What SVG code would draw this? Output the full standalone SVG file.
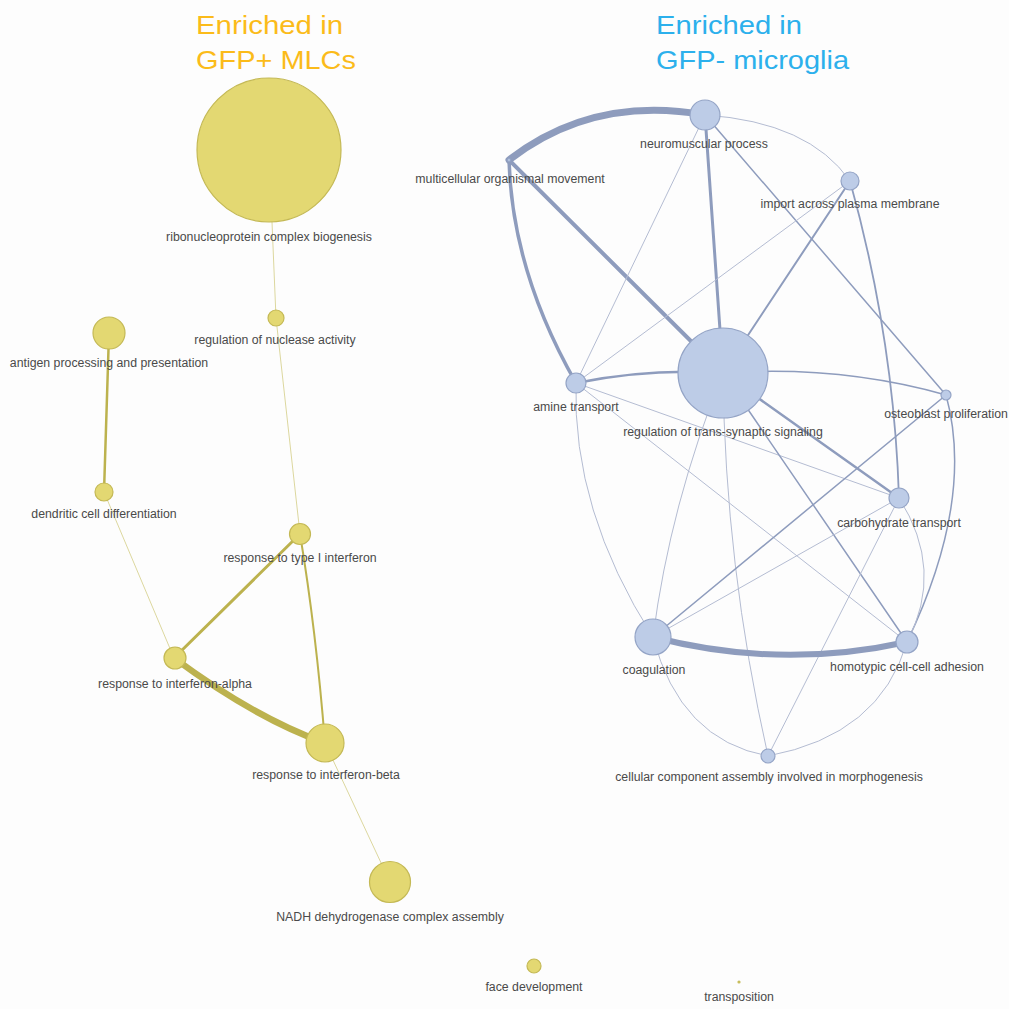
<svg xmlns="http://www.w3.org/2000/svg" width="1009" height="1009" viewBox="0 0 1009 1009">
<style>
.t{font-family:"Liberation Sans",Arial,sans-serif;font-size:12.3px;fill:#4a4a4a;text-anchor:middle}
.title{font-family:"Liberation Sans",Arial,sans-serif;font-size:25.5px}
.y{fill:#e3d872;stroke:#c4b955;stroke-width:1.2}
.b{fill:#bdcce7;stroke:#94a4c6;stroke-width:1.2}
.ey{fill:none;stroke:#bcb24e;stroke-linecap:round}
.eyl{fill:none;stroke:#dcd79e;stroke-width:1}
.eb{fill:none;stroke:#8e9cbd;stroke-linecap:round}
.ebl{fill:none;stroke:#b4bcd2;stroke-width:1}
</style>
<rect width="1009" height="1009" fill="#fdfdfd"/>
<text class="title" x="196" y="34" fill="#fbbb1a" textLength="147" lengthAdjust="spacingAndGlyphs">Enriched in</text>
<text class="title" x="196" y="69" fill="#fbbb1a" textLength="160" lengthAdjust="spacingAndGlyphs">GFP+ MLCs</text>
<text class="title" x="656" y="34" fill="#2cb0ec" textLength="146" lengthAdjust="spacingAndGlyphs">Enriched in</text>
<text class="title" x="656" y="69" fill="#2cb0ec" textLength="193" lengthAdjust="spacingAndGlyphs">GFP- microglia</text>
<g id="connectors">
<line class="eyl" x1="269" y1="150" x2="276" y2="318"/>
<line class="eyl" x1="276" y1="318" x2="300" y2="534"/>
<line class="ey" x1="109" y1="333" x2="104" y2="492" stroke-width="2.5"/>
<line class="eyl" x1="104" y1="492" x2="174" y2="658"/>
<line class="ey" x1="300" y1="534" x2="174" y2="658" stroke-width="3"/>
<path class="ey" d="M300,534 Q316,630 325,743" stroke-width="2"/>
<path class="ey" d="M174,658 Q255,718 325,743" stroke-width="6.5"/>
<line class="eyl" x1="325" y1="743" x2="390" y2="882" stroke-width="0.8"/>
<path class="eb" d="M509,160 Q593,95 705,115" stroke-width="7"/>
<line class="eb" x1="509" y1="160" x2="723" y2="373" stroke-width="4"/>
<path class="eb" d="M509,160 Q512,271 576,383" stroke-width="3.5"/>
<line class="eb" x1="705" y1="115" x2="723" y2="373" stroke-width="3"/>
<line class="ebl" x1="705" y1="115" x2="576" y2="383"/>
<path class="ebl" d="M705,115 Q809,122 850,181"/>
<line class="eb" x1="705" y1="115" x2="946" y2="395" stroke-width="1.5"/>
<line class="eb" x1="850" y1="181" x2="723" y2="373" stroke-width="2"/>
<line class="ebl" x1="850" y1="181" x2="576" y2="383"/>
<path class="eb" d="M850,181 Q894,339 899,498" stroke-width="1.8"/>
<path class="eb" d="M576,383 Q650,368 723,373" stroke-width="2.5"/>
<path class="eb" d="M723,373 Q840,365 946,395" stroke-width="1.5"/>
<line class="ebl" x1="576" y1="383" x2="899" y2="498"/>
<line class="ebl" x1="576" y1="383" x2="907" y2="642"/>
<path class="ebl" d="M576,383 Q572,510 653,637"/>
<line class="eb" x1="723" y1="373" x2="899" y2="498" stroke-width="2.5"/>
<line class="eb" x1="723" y1="373" x2="907" y2="642" stroke-width="1.5"/>
<path class="ebl" d="M723,373 Q670,505 653,637"/>
<path class="ebl" d="M723,373 Q725,565 768,756" stroke="#a9b3cc"/>
<line class="eb" x1="946" y1="395" x2="653" y2="637" stroke-width="1.5"/>
<path class="eb" d="M946,395 Q975,500 907,642" stroke-width="1.5"/>
<line class="ebl" x1="899" y1="498" x2="653" y2="637"/>
<path class="ebl" d="M899,498 Q945,570 907,642"/>
<line class="ebl" x1="899" y1="498" x2="768" y2="756" stroke="#a9b3cc"/>
<path class="eb" d="M653,637 Q780,670 907,642" stroke-width="6"/>
<path class="ebl" d="M653,637 Q680,740 768,756"/>
<path class="ebl" d="M907,642 Q880,735 768,756"/>
</g>
<g id="n-rcb"><circle class="y" cx="269" cy="150" r="72"/><text class="t" x="269" y="241">ribonucleoprotein complex biogenesis</text></g>
<g id="n-rna"><circle class="y" cx="276" cy="318" r="8"/><text class="t" x="275" y="344">regulation of nuclease activity</text></g>
<g id="n-app"><circle class="y" cx="109" cy="333" r="16"/><text class="t" x="109" y="367">antigen processing and presentation</text></g>
<g id="n-dcd"><circle class="y" cx="104" cy="492" r="9"/><text class="t" x="104" y="518">dendritic cell differentiation</text></g>
<g id="n-rt1"><circle class="y" cx="300" cy="534" r="10.5"/><text class="t" x="300" y="562">response to type I interferon</text></g>
<g id="n-ria"><circle class="y" cx="175" cy="658" r="11"/><text class="t" x="175" y="688">response to interferon-alpha</text></g>
<g id="n-rib"><circle class="y" cx="325" cy="743" r="19"/><text class="t" x="326" y="779">response to interferon-beta</text></g>
<g id="n-nadh"><circle class="y" cx="390" cy="882" r="20.5"/><text class="t" x="390" y="921">NADH dehydrogenase complex assembly</text></g>
<g id="n-fd"><circle class="y" cx="534" cy="966" r="7"/><text class="t" x="534" y="991">face development</text></g>
<g id="n-tr"><circle class="y" cx="739" cy="982" r="1"/><text class="t" x="739" y="1001">transposition</text></g>
<g id="n-mom"><circle class="b" cx="509" cy="160" r="1.5"/><text class="t" x="510" y="183">multicellular organismal movement</text></g>
<g id="n-nm"><circle class="b" cx="705" cy="115" r="15"/><text class="t" x="704" y="148">neuromuscular process</text></g>
<g id="n-iapm"><circle class="b" cx="850" cy="181" r="9"/><text class="t" x="850" y="208">import across plasma membrane</text></g>
<g id="n-rts"><circle class="b" cx="723" cy="373" r="45"/><text class="t" x="723" y="436">regulation of trans-synaptic signaling</text></g>
<g id="n-at"><circle class="b" cx="576" cy="383" r="10"/><text class="t" x="576" y="411">amine transport</text></g>
<g id="n-op"><circle class="b" cx="946" cy="395" r="5"/><text class="t" x="946" y="418">osteoblast proliferation</text></g>
<g id="n-ct"><circle class="b" cx="899" cy="498" r="10"/><text class="t" x="899" y="527">carbohydrate transport</text></g>
<g id="n-co"><circle class="b" cx="653" cy="637" r="18"/><text class="t" x="654" y="674">coagulation</text></g>
<g id="n-ha"><circle class="b" cx="907" cy="642" r="11"/><text class="t" x="907" y="671">homotypic cell-cell adhesion</text></g>
<g id="n-cca"><circle class="b" cx="768" cy="756" r="7"/><text class="t" x="769" y="781">cellular component assembly involved in morphogenesis</text></g>
</svg>
